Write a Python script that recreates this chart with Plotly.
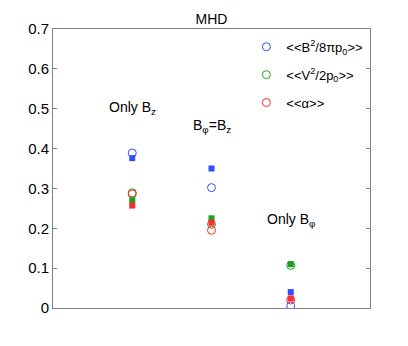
import plotly.graph_objects as go

cases = [1, 2, 3]
case_labels = ["Only B<sub>z</sub>", "B<sub>φ</sub>=B<sub>z</sub>", "Only B<sub>φ</sub>"]
label_y = [0.473, 0.43, 0.193]

mag_circle = [0.389, 0.302, 0.005]
kin_circle = [0.289, 0.210, 0.107]
alpha_circle = [0.286, 0.195, 0.020]

mag_square = [0.376, 0.350, 0.040]
kin_square = [0.270, 0.225, 0.110]
alpha_square = [0.257, 0.214, 0.024]

ytick_vals = [0, 0.1, 0.2, 0.3, 0.4, 0.5, 0.6, 0.7]
ytick_text = ["0", "0.1", "0.2", "0.3", "0.4", "0.5", "0.6", "0.7"]

blue = "#2f4fff"
green = "#1e9e1e"
red = "#ff2a2a"

fig = go.Figure()
names = ["&lt;&lt;B<sup>2</sup>/8πp<sub>0</sub>&gt;&gt;",
         "&lt;&lt;V<sup>2</sup>/2p<sub>0</sub>&gt;&gt;",
         "&lt;&lt;α&gt;&gt;"]
for i, (vals, col, nm) in enumerate([(mag_circle, blue, names[0]), (kin_circle, green, names[1]),
                                     (alpha_circle, red, names[2])]):
    fig.add_trace(go.Scatter(x=cases, y=vals, mode="markers", name=nm, legendgroup=str(i),
                             marker=dict(symbol="circle-open", size=8, color=col, line=dict(width=1))))

for vals, col in [(mag_square, blue), (kin_square, green), (alpha_square, red)]:
    fig.add_trace(go.Scatter(x=cases, y=vals, mode="markers", showlegend=False,
                             marker=dict(symbol="square", size=6, color=col)))

for xc, lab, ly in zip(cases, case_labels, label_y):
    fig.add_annotation(x=xc, y=ly, text=lab, showarrow=False, xanchor="center", yanchor="bottom",
                       font=dict(size=14, color="black"))

fig.update_layout(
    width=400, height=338,
    margin=dict(l=45, r=38, t=17, b=38),
    paper_bgcolor="white", plot_bgcolor="white",
    font=dict(family="Liberation Sans, Arial, sans-serif", size=13, color="black"),
    title=dict(text="MHD", x=0.5, xref="paper", yref="paper", y=1, yanchor="bottom",
               pad=dict(b=5), font=dict(size=14)),
    showlegend=True,
    legend=dict(x=0.61, y=0.99, xanchor="left", yanchor="top", bgcolor="rgba(0,0,0,0)",
                tracegroupgap=8, font=dict(size=13), itemwidth=30),
    xaxis=dict(range=[0, 4], showticklabels=False, ticks="", showgrid=False, zeroline=False,
               showline=True, linecolor="#808080", linewidth=1, mirror=True),
    yaxis=dict(range=[0, 0.7], tickvals=ytick_vals, ticktext=ytick_text, showgrid=False,
               zeroline=False, showline=True, linecolor="#808080", linewidth=1, mirror="ticks",
               ticks="inside", ticklen=4, tickcolor="#808080", tickfont=dict(size=15)),
)
fig.write_html("out.html")
